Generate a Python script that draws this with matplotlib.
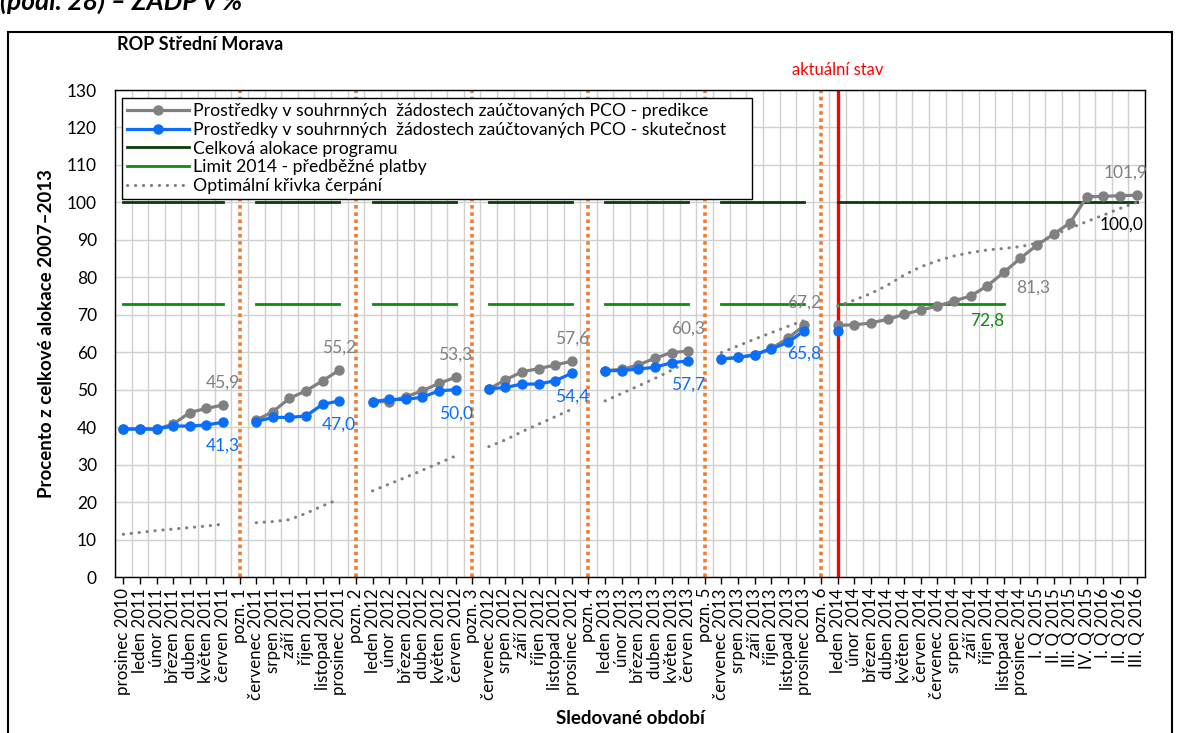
import numpy as np
import matplotlib
matplotlib.use('Agg')
import matplotlib.pyplot as plt
from matplotlib.patches import Rectangle

plt.rcParams['font.family'] = ['Lato', 'DejaVu Sans']

nan = np.nan

categories = [
    'prosinec 2010', 'leden 2011', 'únor 2011', 'březen 2011', 'duben 2011', 'květen 2011', 'červen 2011', 'pozn. 1',
    'červenec 2011', 'srpen 2011', 'září 2011', 'říjen 2011', 'listopad 2011', 'prosinec 2011', 'pozn. 2',
    'leden 2012', 'únor 2012', 'březen 2012', 'duben 2012', 'květen 2012', 'červen 2012', 'pozn. 3',
    'červenec 2012', 'srpen 2012', 'září 2012', 'říjen 2012', 'listopad 2012', 'prosinec 2012', 'pozn. 4',
    'leden 2013', 'únor 2013', 'březen 2013', 'duben 2013', 'květen 2013', 'červen 2013', 'pozn. 5',
    'červenec 2013', 'srpen 2013', 'září 2013', 'říjen 2013', 'listopad 2013', 'prosinec 2013', 'pozn. 6',
    'leden 2014', 'únor 2014', 'březen 2014', 'duben 2014', 'květen 2014', 'červen 2014', 'červenec 2014',
    'srpen 2014', 'září 2014', 'říjen 2014', 'listopad 2014', 'prosinec 2014',
    'I. Q 2015', 'II. Q 2015', 'III. Q 2015', 'IV. Q 2015', 'I. Q 2016', 'II. Q 2016', 'III. Q 2016',
]

predikce = [
    39.5, 39.5, 39.5, 40.8, 43.9, 45.0, 45.9, nan,
    41.9, 44.1, 47.7, 49.7, 52.4, 55.2, nan,
    46.8, 46.8, 48.1, 49.7, 51.7, 53.3, nan,
    50.2, 52.6, 54.8, 55.6, 56.6, 57.6, nan,
    55.1, 55.4, 56.6, 58.4, 59.9, 60.3, nan,
    58.2, 58.6, 59.3, 61.0, 63.7, 67.2, nan,
    67.2, 67.3, 67.8, 68.8, 70.1, 71.3, 72.3, 73.7, 75.0, 77.7, 81.3, 85.1,
    88.6, 91.5, 94.6, 101.5, 101.6, 101.8, 101.9,
]

skutecnost = [
    39.5, 39.5, 39.5, 40.3, 40.3, 40.6, 41.3, nan,
    41.5, 42.6, 42.6, 43.0, 46.1, 47.0, nan,
    46.8, 47.4, 47.4, 48.0, 49.7, 50.0, nan,
    50.2, 50.6, 51.5, 51.5, 52.4, 54.4, nan,
    55.1, 55.1, 55.5, 56.0, 57.2, 57.7, nan,
    58.2, 58.6, 59.3, 60.9, 62.6, 65.8, nan,
    65.8, nan, nan, nan, nan, nan, nan, nan, nan, nan, nan, nan,
    nan, nan, nan, nan, nan, nan, nan,
]

optimalni = [
    11.4, 11.9, 12.4, 12.8, 13.2, 13.6, 14.1, nan,
    14.5, 14.8, 15.3, 17.0, 19.0, 20.8, nan,
    23.0, 24.8, 26.6, 28.5, 30.4, 32.3, nan,
    34.8, 36.6, 38.8, 40.8, 42.8, 44.8, nan,
    47.0, 49.0, 51.0, 53.0, 55.2, 57.5, nan,
    59.9, 61.7, 63.5, 65.2, 66.9, 68.5, nan,
    72.3, 73.9, 75.7, 77.9, 80.6, 82.8, 84.4, 85.7, 86.6, 87.3, 87.7, 88.2,
    89.1, 91.3, 93.1, 94.9, 96.6, 98.4, 100.0,
]

alokace = [
    100, 100, 100, 100, 100, 100, 100, nan,
    100, 100, 100, 100, 100, 100, nan,
    100, 100, 100, 100, 100, 100, nan,
    100, 100, 100, 100, 100, 100, nan,
    100, 100, 100, 100, 100, 100, nan,
    100, 100, 100, 100, 100, 100, nan,
    100, 100, 100, 100, 100, 100, 100, 100, 100, 100, 100, 100,
    100, 100, 100, 100, 100, 100, 100,
]

limit2014 = [
    72.8, 72.8, 72.8, 72.8, 72.8, 72.8, 72.8, nan,
    72.8, 72.8, 72.8, 72.8, 72.8, 72.8, nan,
    72.8, 72.8, 72.8, 72.8, 72.8, 72.8, nan,
    72.8, 72.8, 72.8, 72.8, 72.8, 72.8, nan,
    72.8, 72.8, 72.8, 72.8, 72.8, 72.8, nan,
    72.8, 72.8, 72.8, 72.8, 72.8, 72.8, nan,
    72.8, 72.8, 72.8, 72.8, 72.8, 72.8, 72.8, 72.8, 72.8, 72.8, 72.8, nan,
    nan, nan, nan, nan, nan, nan, nan,
]

# indexes of last point of each block (data labels)
label_idx = [6, 13, 20, 27, 34, 41]
aktualni_idx = 43

x = np.arange(len(categories))
predikce = np.array(predikce, dtype=float)
skutecnost = np.array(skutecnost, dtype=float)
optimalni = np.array(optimalni, dtype=float)
alokace = np.array(alokace, dtype=float)
limit2014 = np.array(limit2014, dtype=float)

gray = '#808080'
blue = '#0A6EFA'
orange = '#ED7D31'

fig = plt.figure(figsize=(11.79, 7.33), dpi=100)
ax = fig.add_axes([115 / 1179, 1 - 577 / 733, 1030 / 1179, 487 / 733])

ax.set_xlim(-0.5, len(categories) - 0.5)
ax.set_ylim(0, 130)
ax.set_yticks(range(0, 131, 10))
ax.set_xticks(x)
ax.set_xticklabels(categories, rotation=90, fontsize=12.2)
ax.set_xticks(np.arange(-0.5, len(categories), 1), minor=True)
ax.tick_params(axis='x', which='major', length=5, width=1, pad=3)
ax.tick_params(axis='x', which='minor', length=0)
ax.tick_params(axis='y', length=0, pad=13, labelsize=12.5)
ax.grid(which='minor', axis='x', color='#D0D0D0', lw=1)
ax.grid(which='major', axis='y', color='#D0D0D0', lw=1)
ax.set_axisbelow(True)
for s in ax.spines.values():
    s.set_color('black')
    s.set_linewidth(1)

# poznamky - svisle teckovane cary
for i, c in enumerate(categories):
    if c.startswith('pozn.'):
        ax.axvline(i, color=orange, lw=2.6, ls=(0, (1, 1)), zorder=2)
ax.axvline(aktualni_idx, color='#FF0000', lw=2.4, zorder=2)

ax.plot(x, alokace, color='#0B3B0B', lw=2, label='Celková alokace programu', zorder=3)
ax.plot(x, limit2014, color='#108A10', lw=2, label='Limit 2014 - předběžné platby', zorder=3)
ax.plot(x, optimalni, color=gray, lw=2.2, ls=(0, (0.1, 2.5)), dash_capstyle='round',
        label='Optimální křivka čerpání', zorder=3)
ax.plot(x, predikce, color=gray, lw=2.3, marker='o', ms=6.5,
        label='Prostředky v souhrnných  žádostech zaúčtovaných PCO - predikce', zorder=4)
ax.plot(x, skutecnost, color=blue, lw=2.3, marker='o', ms=6.5,
        label='Prostředky v souhrnných  žádostech zaúčtovaných PCO - skutečnost', zorder=5)

def fmt(v):
    return '{:.1f}'.format(v).replace('.', ',')

for i in label_idx:
    ax.annotate(fmt(predikce[i]), (i, predikce[i]), xytext=(0, 16), textcoords='offset points',
                ha='center', va='center', color=gray, fontsize=12.5, zorder=6)
    ax.annotate(fmt(skutecnost[i]), (i, skutecnost[i]), xytext=(0, -17), textcoords='offset points',
                ha='center', va='center', color=blue, fontsize=12.5, zorder=6)

i53 = 53
ax.annotate(fmt(predikce[i53]), (i53, predikce[i53]), xytext=(21, -11), textcoords='offset points',
            ha='center', va='center', color=gray, fontsize=12.5, zorder=6)
ax.annotate(fmt(limit2014[i53]), (i53, limit2014[i53]), xytext=(-12, -12), textcoords='offset points',
            ha='center', va='center', color='#108A10', fontsize=12.5, zorder=6)
ax.annotate(fmt(predikce[-1]), (len(x) - 1, predikce[-1]), xytext=(-8, 16), textcoords='offset points',
            ha='center', va='center', color=gray, fontsize=12.5, zorder=6)
ax.annotate(fmt(alokace[-1]), (len(x) - 1, alokace[-1]), xytext=(-11, -16), textcoords='offset points',
            ha='center', va='center', color='black', fontsize=12.5, zorder=6)

ax.text(aktualni_idx, 1.0 + 20 / 487, 'aktuální stav', transform=ax.get_xaxis_transform(),
        ha='center', va='center', color='#FF0000', fontsize=12, clip_on=False)

handles, labels = ax.get_legend_handles_labels()
order = [3, 4, 0, 1, 2]
leg_h = 99 / 487
leg = ax.legend([handles[k] for k in order], [labels[k] for k in order],
                loc='upper left', mode='expand',
                bbox_to_anchor=(7 / 1030, 1 - 8 / 487 - leg_h, 630 / 1030, leg_h), borderaxespad=0,
                fontsize=12.7, frameon=True, fancybox=False, framealpha=1, edgecolor='black',
                handlelength=3.5, handletextpad=0.25, labelspacing=0.15, borderpad=0.3)
leg.get_frame().set_linewidth(1)
leg.set_zorder(10)

fig.text(47 / 1179, 1 - 334 / 733, 'Procento z celkové alokace 2007–2013', rotation=90,
         ha='center', va='center', fontsize=13.5, fontweight='bold')
fig.text(630 / 1179, 1 - 718 / 733, 'Sledované období', ha='center', va='center',
         fontsize=13.5, fontweight='bold')
fig.text(117 / 1179, 1 - 45 / 733, 'ROP Střední Morava', ha='left', va='center',
         fontsize=13, fontweight='bold')
fig.text(0.0, 1 - 10 / 733, '(podl. 28) – ZADP v %', ha='left', va='baseline',
         fontsize=19, fontweight='bold', style='italic')

fig.patches.append(Rectangle((8 / 1179, -0.05), (1172 - 8) / 1179, 1 - 32 / 733 + 0.05,
                             transform=fig.transFigure, fill=False, edgecolor='black', lw=1.5))

fig.savefig('out.png', dpi=100)
